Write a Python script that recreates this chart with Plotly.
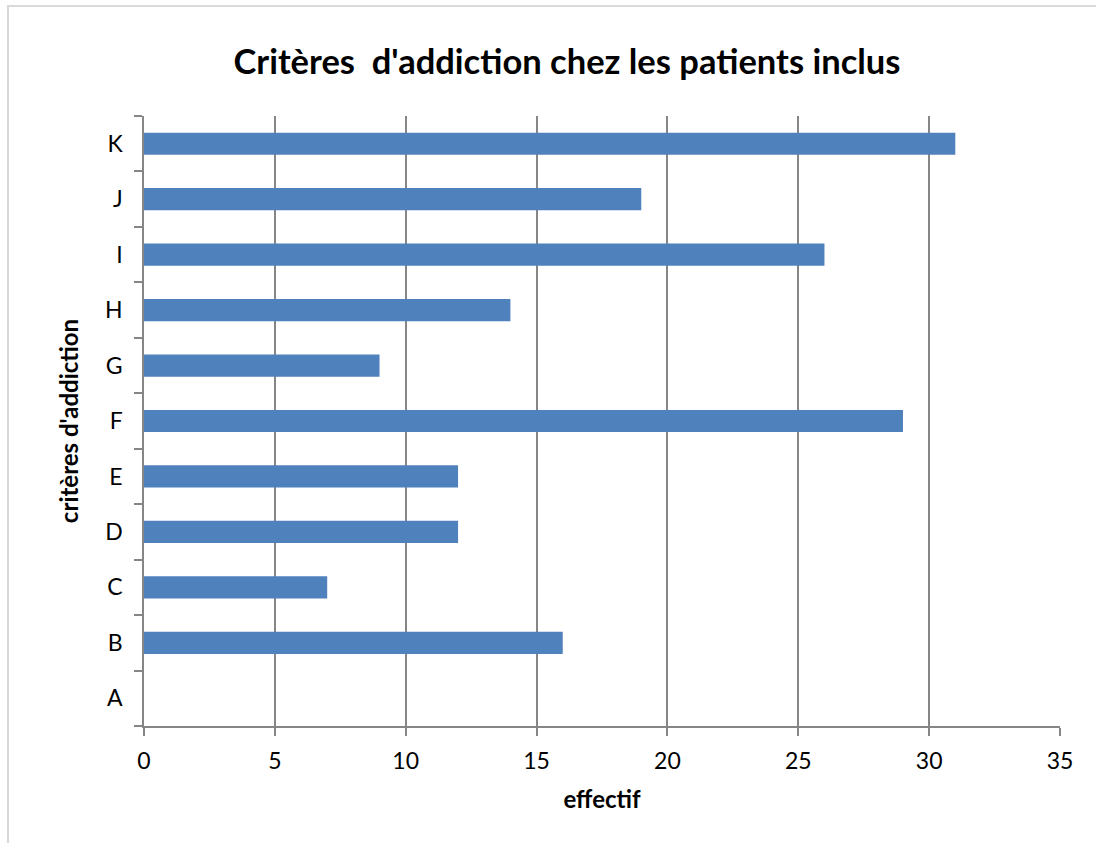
import plotly.graph_objects as go

categories = ["A", "B", "C", "D", "E", "F", "G", "H", "I", "J", "K"]
values = [0, 16, 7, 12, 12, 29, 9, 14, 26, 19, 31]
x_ticks = [0, 5, 10, 15, 20, 25, 30, 35]

W, H = 1096, 843
L, R, T, B = 144, 36, 116, 117
pw, ph = W - L - R, H - T - B

def px_x(p):
    return (p - L) / pw

def px_y(p):
    return (H - B - p) / ph

FONT = "Lato, 'Open Sans', sans-serif"
GRID = "#868686"

fig = go.Figure(go.Bar(
    y=categories, x=values, orientation="h",
    marker=dict(color="#4F81BD", line=dict(width=0)),
))

fig.update_layout(
    width=W, height=H,
    margin=dict(l=L, r=R, t=T, b=B),
    paper_bgcolor="white", plot_bgcolor="white",
    bargap=0.6,
    showlegend=False,
    font=dict(family=FONT, color="black"),
    title=dict(
        text="<b>Critères&nbsp;&nbsp;d'addiction chez les patients inclus</b>",
        x=567 / W, xanchor="center", xref="container",
        y=1 - 62 / H, yanchor="middle", yref="container",
        font=dict(size=34.5, family=FONT, color="black"),
    ),
    xaxis=dict(
        range=[0, 35], tickvals=x_ticks, ticktext=[str(v) for v in x_ticks],
        showgrid=True, gridcolor=GRID, gridwidth=1.5,
        showline=True, linecolor=GRID, linewidth=1.5,
        ticks="outside", ticklen=8, tickcolor=GRID, tickwidth=1.5,
        tickfont=dict(size=23, family=FONT, color="black"),
        ticklabelstandoff=6,
        zeroline=False,
        title=dict(text="<b>effectif</b>", font=dict(size=24, family=FONT, color="black"), standoff=18),
        fixedrange=True,
    ),
    yaxis=dict(
        type="category", categoryorder="array", categoryarray=categories,
        showgrid=False, showline=True, linecolor=GRID, linewidth=1.5,
        ticks="outside", tickson="boundaries", ticklen=8, tickcolor=GRID, tickwidth=1.5,
        tickfont=dict(size=23, family=FONT, color="black"),
        ticklabelstandoff=15,
        title=dict(text="<b>critères d'addiction</b>", font=dict(size=24, family=FONT, color="black"), standoff=20),
        fixedrange=True,
    ),
    shapes=[dict(
        type="rect", xref="paper", yref="paper",
        x0=px_x(8), x1=px_x(1110), y0=px_y(860), y1=px_y(6),
        line=dict(color="#D9D9D9", width=2), fillcolor="rgba(0,0,0,0)", layer="below",
    )],
)

fig.write_html("out.html", config={"displayModeBar": False},
               post_script="document.body.style.margin='0';")
